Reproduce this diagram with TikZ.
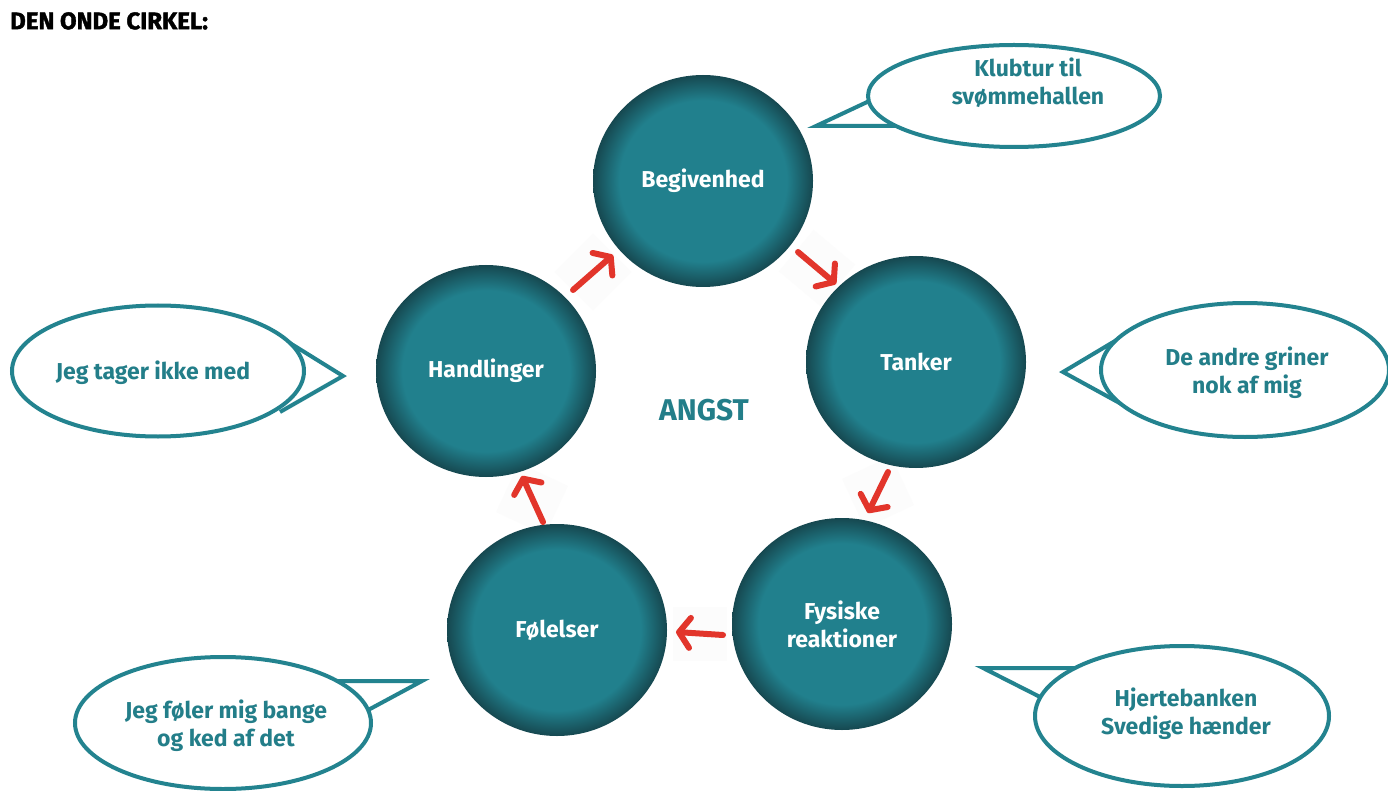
\documentclass[tikz,border=0pt]{standalone}
\usepackage{fontspec}
\setmainfont{Fira Sans}
\newfontfamily\heavyfont[FakeBold=1.6]{Fira Sans}
\usetikzlibrary{shapes.geometric,arrows.meta,calc}

\definecolor{tealA}{HTML}{21808D}
\definecolor{tealB}{HTML}{164850}
\definecolor{lineteal}{HTML}{23838F}
\definecolor{textteal}{HTML}{237E89}
\definecolor{arrowred}{HTML}{E2352B}

% darker rim towards the edge of each disc
\pgfdeclareradialshading{ball}{\pgfpoint{0bp}{0bp}}{%
  color(0bp)=(tealA); color(19bp)=(tealA); color(25bp)=(tealB); color(50bp)=(tealB)}

\tikzset{
  disc/.style={ellipse, shading=ball, minimum width=220pt, minimum height=212pt,
    inner sep=0pt, text=white, font=\bfseries\fontsize{23}{28}\selectfont, align=center},
  bubble/.style={ellipse, draw=lineteal, fill=white, line width=4pt, inner sep=0pt},
  tail/.style={draw=lineteal, line width=4pt, line join=miter},
  saytext/.style={text=textteal, font=\bfseries\fontsize{23}{28}\selectfont, align=center},
  redarrow/.style={draw=arrowred, line width=6pt, line cap=round,
    -{Straight Barb[length=11pt,width=30pt,round]}},
  backsq/.style={fill=black!1.2, minimum size=54pt, inner sep=0pt},
}

\begin{document}
\begin{tikzpicture}[x=1pt,y=-1pt]
\path[use as bounding box, fill=white] (0,0) rectangle (1388,791);

\node[anchor=north west, font=\heavyfont\bfseries\fontsize{24}{26}\selectfont, inner sep=0pt]
  (title) at (10,12) {DEN ONDE CIRKEL:};

% pale patches behind the arrows
\node[backsq, rotate=45] (p1) at (593,272) {};
\node[backsq, rotate=-40] (p2) at (817,268) {};
\node[backsq, rotate=25] (p3) at (878,492) {};
\node[backsq] (p4) at (700,634) {};
\node[backsq, rotate=-25] (p5) at (532,499) {};

% the five stages of the cycle
\node[disc] (beg) at (703,181) {Begivenhed};
\node[disc] (tan) at (916,362) {Tanker};
\node[disc] (fys) at (842,624) {Fysiske\\reaktioner};
\node[disc] (fol) at (557,630) {Følelser};
\node[disc] (han) at (486,371) {Handlinger};

\node[text=textteal, font=\bfseries\fontsize{30}{34}\selectfont] (angst) at (704,410) {ANGST};

% arrows between the stages
\coordinate (a1s) at (573,290); \coordinate (a1e) at (613,255);
\coordinate (a2s) at (798,252); \coordinate (a2e) at (836,284);
\coordinate (a3s) at (888,472); \coordinate (a3e) at (868,513);
\coordinate (a4s) at (723,635); \coordinate (a4e) at (676,632);
\coordinate (a5s) at (543,522); \coordinate (a5e) at (522,476);
\draw[redarrow] (a1s) -- (a1e);
\draw[redarrow] (a2s) -- (a2e);
\draw[redarrow] (a3s) -- (a3e);
\draw[redarrow] (a4s) -- (a4e);
\draw[redarrow] (a5s) -- (a5e);

% speech bubble tails (the bubbles cover their inner ends)
\coordinate (t1) at (816,126);
\draw[tail] (880,96) -- (t1) -- (915,126);
\coordinate (t2) at (343,376);
\draw[tail] (285,340) -- (t2) -- (280,412);
\coordinate (t3) at (1063,372);
\draw[tail] (1120,338) -- (t3) -- (1125,406);
\coordinate (t4) at (983,668);
\draw[tail] (1085,668) -- (t4) -- (1050,702);
\coordinate (t5) at (422,681);
\draw[tail] (320,681) -- (t5) -- (357,716);

% speech bubbles
\node[bubble, minimum width=292pt, minimum height=102pt] (b1) at (1014,96) {};
\node[bubble, minimum width=292pt, minimum height=131pt] (b2) at (158,371) {};
\node[bubble, minimum width=288pt, minimum height=134pt] (b3) at (1245,370) {};
\node[bubble, minimum width=294pt, minimum height=140pt] (b4) at (1182,716) {};
\node[bubble, minimum width=296pt, minimum height=132pt] (b5) at (223,723) {};

\node[saytext] (s1) at (1028,83) {Klubtur til\\svømmehallen};
\node[saytext] (s2) at (153,373) {Jeg tager ikke med};
\node[saytext] (s3) at (1247,373) {De andre griner\\nok af mig};
\node[saytext] (s4) at (1186,714) {Hjertebanken\\Svedige hænder};
\node[saytext] (s5) at (226,726) {Jeg føler mig bange\\og ked af det};
\end{tikzpicture}
\end{document}
